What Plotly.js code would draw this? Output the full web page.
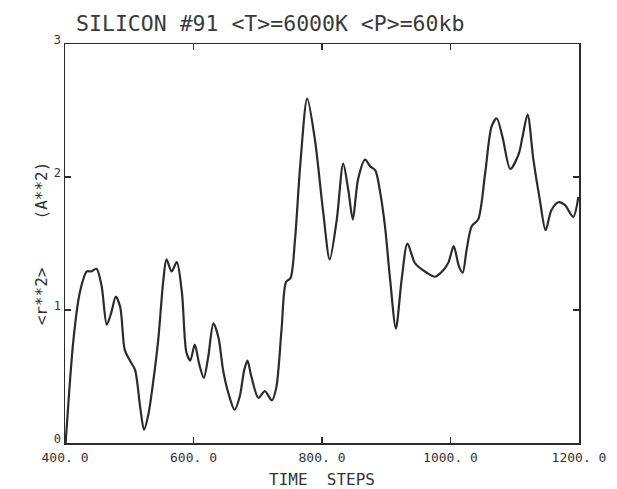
<!DOCTYPE html>
<html>
<head>
<meta charset="utf-8">
<script src="https://cdn.plot.ly/plotly-3.0.1.min.js"></script>
<style>html,body{margin:0;padding:0;background:#fff;}#chart{width:617px;height:489px;}</style>
</head>
<body>
<div id="chart"></div>
<script>
const timeSteps = [401,413,423,434,441,449,457,465,472,479,486,493,501,509,517,523,530,537,545,553,558,566,574,582,589,595,602,609,616,623,631,639,646,654,664,672,679,684,690,701,711,722,729,737,744,751,758,766,777,789,802,812,823,833,841,848,856,867,875,883,890,898,906,915,924,933,945,963,976,989,997,1005,1013,1019,1025,1033,1043,1054,1064,1072,1081,1093,1106,1112,1120,1129,1139,1148,1157,1168,1178,1191,1199];
const msd = [0.0,0.77,1.13,1.29,1.29,1.31,1.18,0.89,0.98,1.10,1.02,0.70,0.62,0.55,0.27,0.10,0.22,0.45,0.77,1.22,1.38,1.29,1.36,1.13,0.68,0.62,0.74,0.59,0.49,0.65,0.90,0.79,0.55,0.38,0.25,0.35,0.55,0.62,0.50,0.34,0.39,0.32,0.42,0.85,1.21,1.24,1.53,2.08,2.59,2.28,1.73,1.38,1.68,2.10,1.90,1.68,1.98,2.13,2.08,2.05,1.90,1.63,1.23,0.86,1.23,1.50,1.35,1.28,1.25,1.30,1.36,1.48,1.33,1.28,1.45,1.63,1.68,2.03,2.38,2.44,2.30,2.06,2.17,2.30,2.47,2.13,1.83,1.60,1.75,1.81,1.79,1.70,1.85];
const xTickVals = [400,600,800,1000,1200];
const xTickText = ['400. 0','600. 0','800. 0','1000. 0','1200. 0'];
const yTickVals = [0,1,2,3];
const yTickText = ['0','1','2','3'];

const fontFam = 'DejaVu Sans Mono, monospace';
const ink = '#2b2b2b';

Plotly.newPlot('chart', [{
  x: timeSteps, y: msd, type: 'scatter', mode: 'lines',
  line: {color: ink, width: 2.2, shape: 'spline', smoothing: 0.8},
  hoverinfo: 'skip'
}], {
  width: 617, height: 489,
  margin: {l: 65, r: 38, t: 44, b: 46},
  paper_bgcolor: '#ffffff', plot_bgcolor: '#ffffff',
  showlegend: false,
  title: {text: 'SILICON #91 &lt;T&gt;=6000K &lt;P&gt;=60kb', font: {family: fontFam, size: 21.5, color: '#3a3a3a'}, x: 0.438, xanchor: 'center', y: 0.953, yanchor: 'middle'},
  xaxis: {
    range: [400, 1200], showgrid: false, zeroline: false,
    showline: true, linecolor: ink, linewidth: 1.5, mirror: 'ticks',
    ticks: 'inside', ticklen: 6, tickcolor: ink, tickwidth: 1.2,
    tickvals: xTickVals, ticktext: xTickText, ticklabelstandoff: 2,
    tickfont: {family: fontFam, size: 13, color: '#333'},
    title: {text: 'TIME&nbsp;&nbsp;STEPS', font: {family: fontFam, size: 16, color: '#333'}, standoff: 14},
    automargin: false
  },
  yaxis: {
    range: [0, 3], showgrid: false, zeroline: false,
    showline: true, linecolor: ink, linewidth: 1.5, mirror: 'ticks',
    ticks: 'inside', ticklen: 6, tickcolor: ink, tickwidth: 1.2,
    tickvals: yTickVals, ticktext: yTickText, ticklabelshift: -4,
    tickfont: {family: fontFam, size: 12, color: '#333'},
    title: {text: '&lt;r**2&gt;&nbsp;&nbsp;&nbsp;&nbsp;&nbsp;(A**2)', font: {family: fontFam, size: 16, color: '#333'}, standoff: 2},
    automargin: false
  }
}, {staticPlot: true});
</script>
</body>
</html>
